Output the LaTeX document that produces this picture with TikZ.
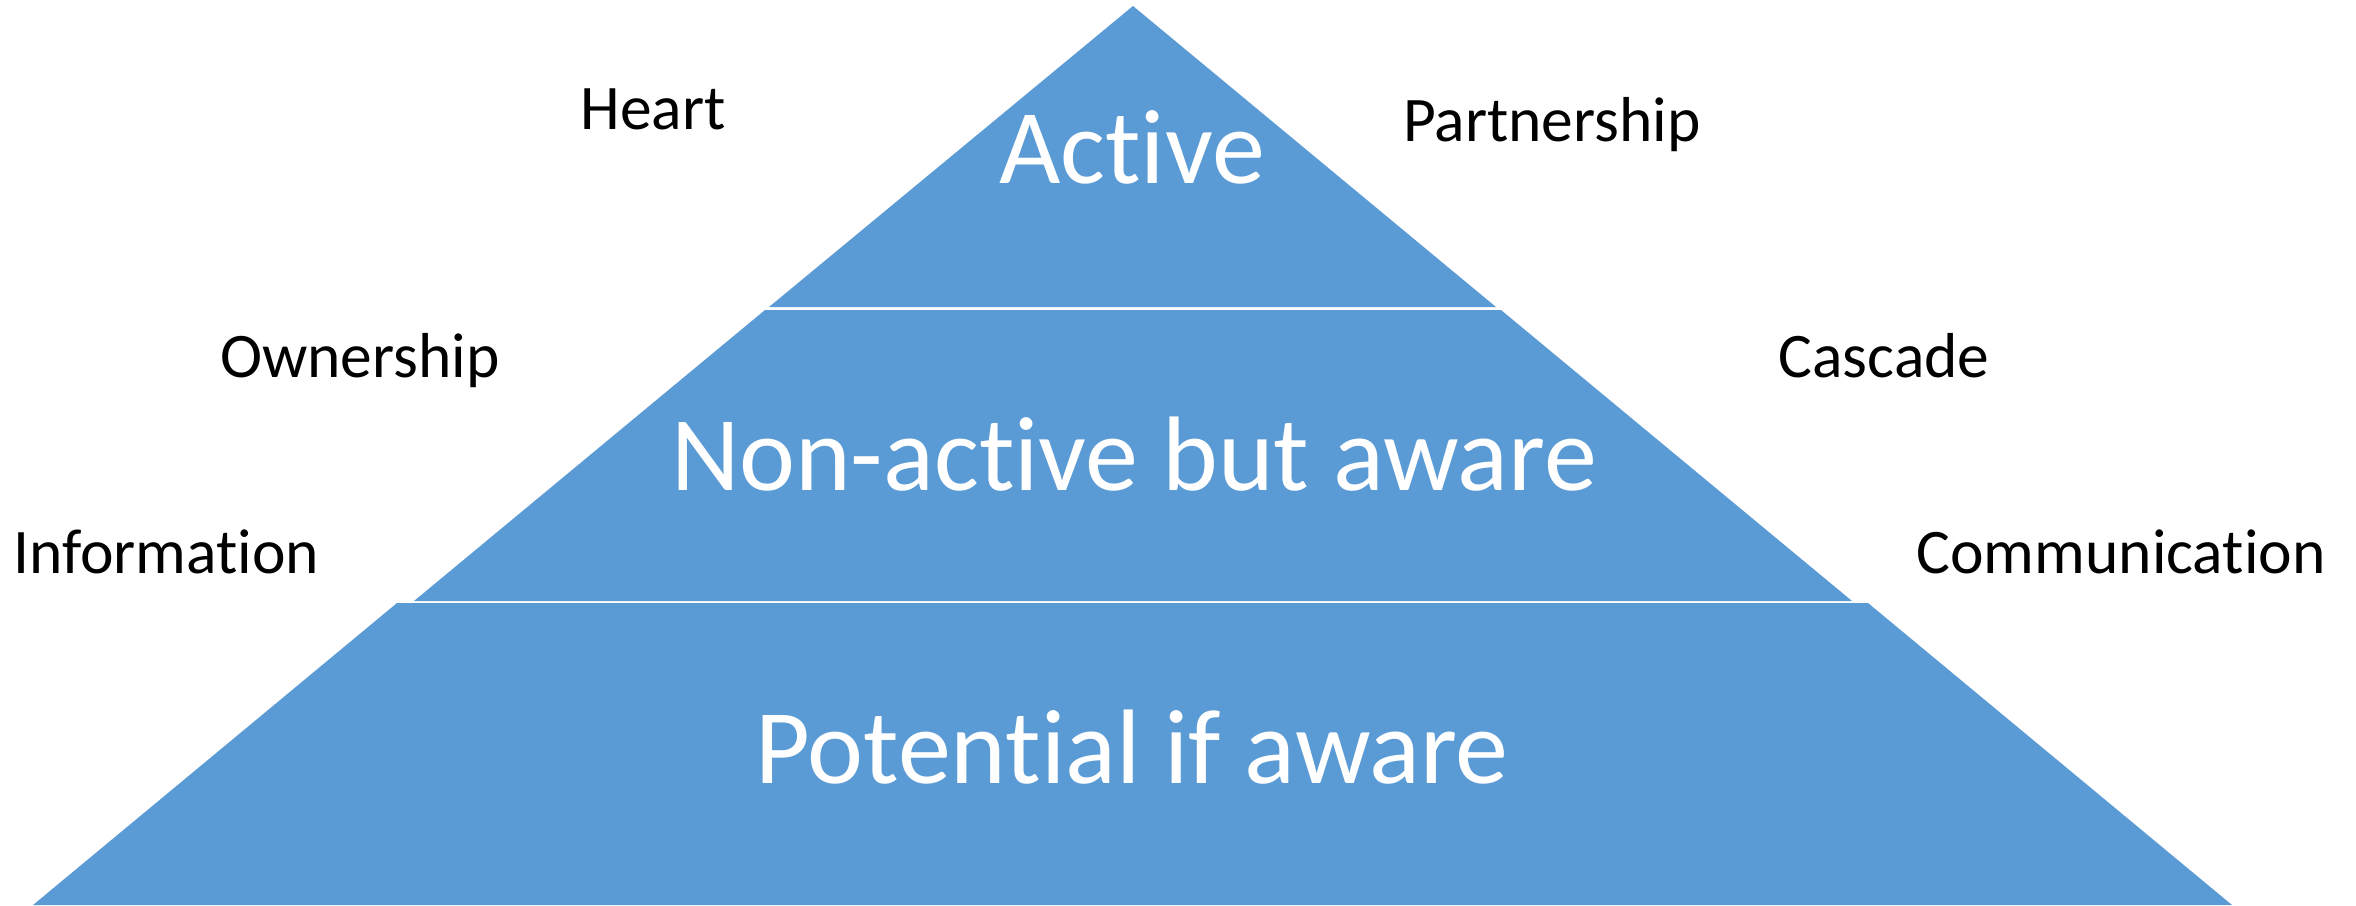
\documentclass[tikz,border=0pt]{standalone}
\usepackage{fontspec}
\setmainfont[Ligatures={NoCommon,NoContextual}]{Carlito}
\definecolor{pyrblue}{HTML}{5B9BD5}
\begin{document}
\begin{tikzpicture}[x=1pt,y=-1pt,
  layer/.style={fill=pyrblue,draw=none},
  big/.style={text=white,font=\fontsize{106}{124}\selectfont,anchor=base,inner sep=0pt},
  side/.style={text=black,font=\fontsize{63.5}{76}\selectfont,anchor=base,inner sep=0pt}]
\useasboundingbox (0,0) rectangle (2356,905);
% layers
\fill[layer] (1133,6) -- (1496,307) -- (769,307) -- cycle;
\fill[layer] (765,310) -- (1501,310) -- (1852,601) -- (414,601) -- cycle;
\fill[layer] (397,603) -- (1868,603) -- (2232,905) -- (33,905) -- cycle;
% layer labels
\node[big] (active) at (1132,183) {Active};
\node[big] (nonactive) at (1134,490) {Non-active but aware};
\node[big] (potential) at (1132,783) {Potential if aware};
% side labels
\node[side] (heart) at (653,129) {Heart};
\node[side] (partner) at (1552,141) {Partnership};
\node[side] (owner) at (360,377) {Ownership};
\node[side] (cascade) at (1884,377) {Cascade};
\node[side] (info) at (166,573) {Information};
\node[side] (comm) at (2121,573) {Communication};
\end{tikzpicture}
\end{document}
